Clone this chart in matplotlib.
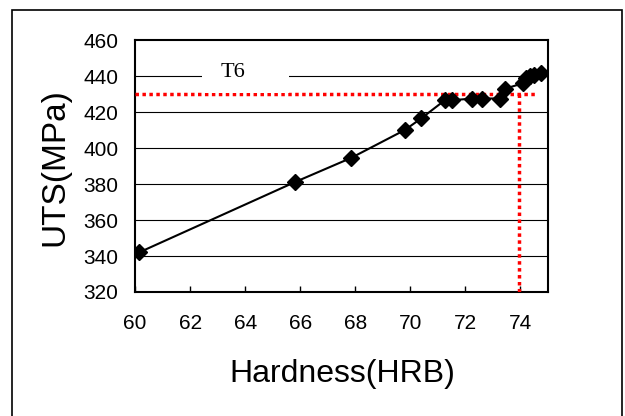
import matplotlib.pyplot as plt
from matplotlib.patches import Rectangle
import numpy as np

# hardness vs UTS, T6 condition
hardness = [60.15, 65.8, 67.85, 69.8, 70.4, 71.25, 71.5, 72.25, 72.6, 73.25,
            73.45, 74.1, 74.2, 74.35, 74.5, 74.75]
uts = [342, 381, 394.5, 410, 416.5, 426.5, 426.5, 427.5, 427.5, 427.5,
       433, 436, 439, 440, 440.5, 441.5]

uts_limit = 430
hrb_limit = 73.96
xticks = [60, 62, 64, 66, 68, 70, 72, 74]
yticks = [320, 340, 360, 380, 400, 420, 440, 460]

plt.rcParams['font.family'] = ['Liberation Sans', 'DejaVu Sans']

fig = plt.figure(figsize=(6.25, 4.16), dpi=100)
ax = fig.add_axes([135 / 625, 1 - 292 / 416, 413 / 625, 252 / 416])

# chart area frame
fig.patches.append(Rectangle((12 / 625, -0.05), 610 / 625, 1 - 10 / 416 + 0.05,
                             transform=fig.transFigure, fill=False,
                             edgecolor="black", linewidth=1.2))

for yv in yticks[1:-1]:
    ax.axhline(yv, color="black", linewidth=0.8, zorder=1)

ax.plot(hardness, uts, "k-", linewidth=1.5, marker="D", markersize=8, zorder=4)

ax.plot([60, 74.55], [uts_limit, uts_limit], color="red", linestyle=(0, (1, 1)),
        linewidth=2.5, dash_capstyle="butt", zorder=3)
ax.plot([hrb_limit, hrb_limit], [uts_limit, 320], color="red", linestyle=(0, (1, 1)),
        linewidth=2.5, dash_capstyle="butt", zorder=3)

# label box for T6 covers the gridline and half the red line
ax.add_patch(Rectangle((62.45, 430.5), 3.15, 18.5, facecolor="white",
                       edgecolor="none", zorder=3.5))
ax.text(63.56, 442, "T6", fontsize=16, family="Liberation Serif",
        ha="center", va="center", zorder=5)

ax.set_xlim(60, 75)
ax.set_ylim(320, 460)
ax.set_xticks(xticks)
ax.set_yticks(yticks)
ax.tick_params(axis="x", direction="in", length=4, width=1, pad=16, labelsize=15)
ax.tick_params(axis="y", length=0, pad=12, labelsize=15)
for s in ax.spines.values():
    s.set_linewidth(1.5)

ax.set_xlabel("Hardness(HRB)", fontsize=23, va="center")
ax.set_ylabel("UTS(MPa)", fontsize=24, va="center")
ax.xaxis.set_label_coords(0.501, -0.325)
ax.yaxis.set_label_coords(-0.194, 0.496)

fig.savefig("out.png", dpi=100)
